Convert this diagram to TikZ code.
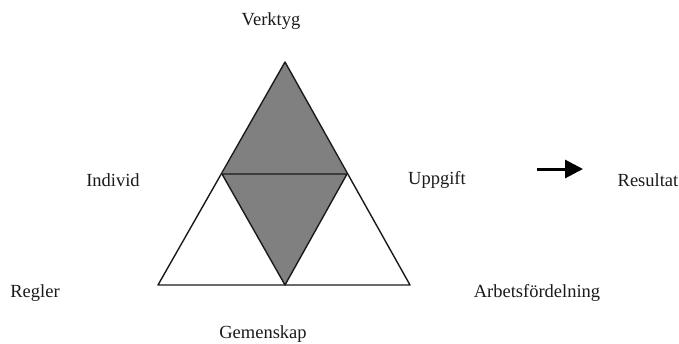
\documentclass[tikz,border=0pt]{standalone}
\usepackage{fontspec}
\setmainfont{Liberation Serif}
\usetikzlibrary{arrows.meta,positioning}
\definecolor{greyfill}{HTML}{808080}
\definecolor{ink}{HTML}{1A1A1A}
\tikzset{
  lbl/.style={inner sep=0pt,font=\fontsize{18.5}{21}\selectfont,text=ink},
  edge/.style={draw=ink,line width=1.4pt,line join=round},
  arr/.style={-{Triangle[length=18pt,width=18pt]},line width=3pt,draw=black}
}
\begin{document}
\begin{tikzpicture}[x=1pt,y=-1pt]
 \useasboundingbox (0,0) rectangle (679,343);
 % corners and midpoints
 \coordinate (top) at (285,62);
 \coordinate (bl) at (158,285);
 \coordinate (br) at (410,285);
 \coordinate (ml) at (222,174);
 \coordinate (mr) at (347,174);
 \coordinate (mb) at (285,285);
 \fill[greyfill] (top)--(mr)--(mb)--(ml)--cycle;
 \draw[edge] (top)--(br)--(bl)--cycle;
 \draw[edge] (ml)--(mr)--(mb)--cycle;
 % labels
 \node[lbl] (verktyg) at (271,21) {Verktyg};
 \node[lbl] (individ) at (113,180) {Individ};
 \node[lbl] (uppgift) at (437,180) {Uppgift};
 \node[lbl] (resultat) at (648,180) {Resultat};
 \node[lbl] (regler) at (35,293) {Regler};
 \node[lbl] (arbete) at (537,293) {Arbetsfördelning};
 \node[lbl] (gemenskap) at (263,334) {Gemenskap};
 \coordinate (pil) at (537,169);
 \draw[arr] (pil)--++(46,0);
\end{tikzpicture}
\end{document}
